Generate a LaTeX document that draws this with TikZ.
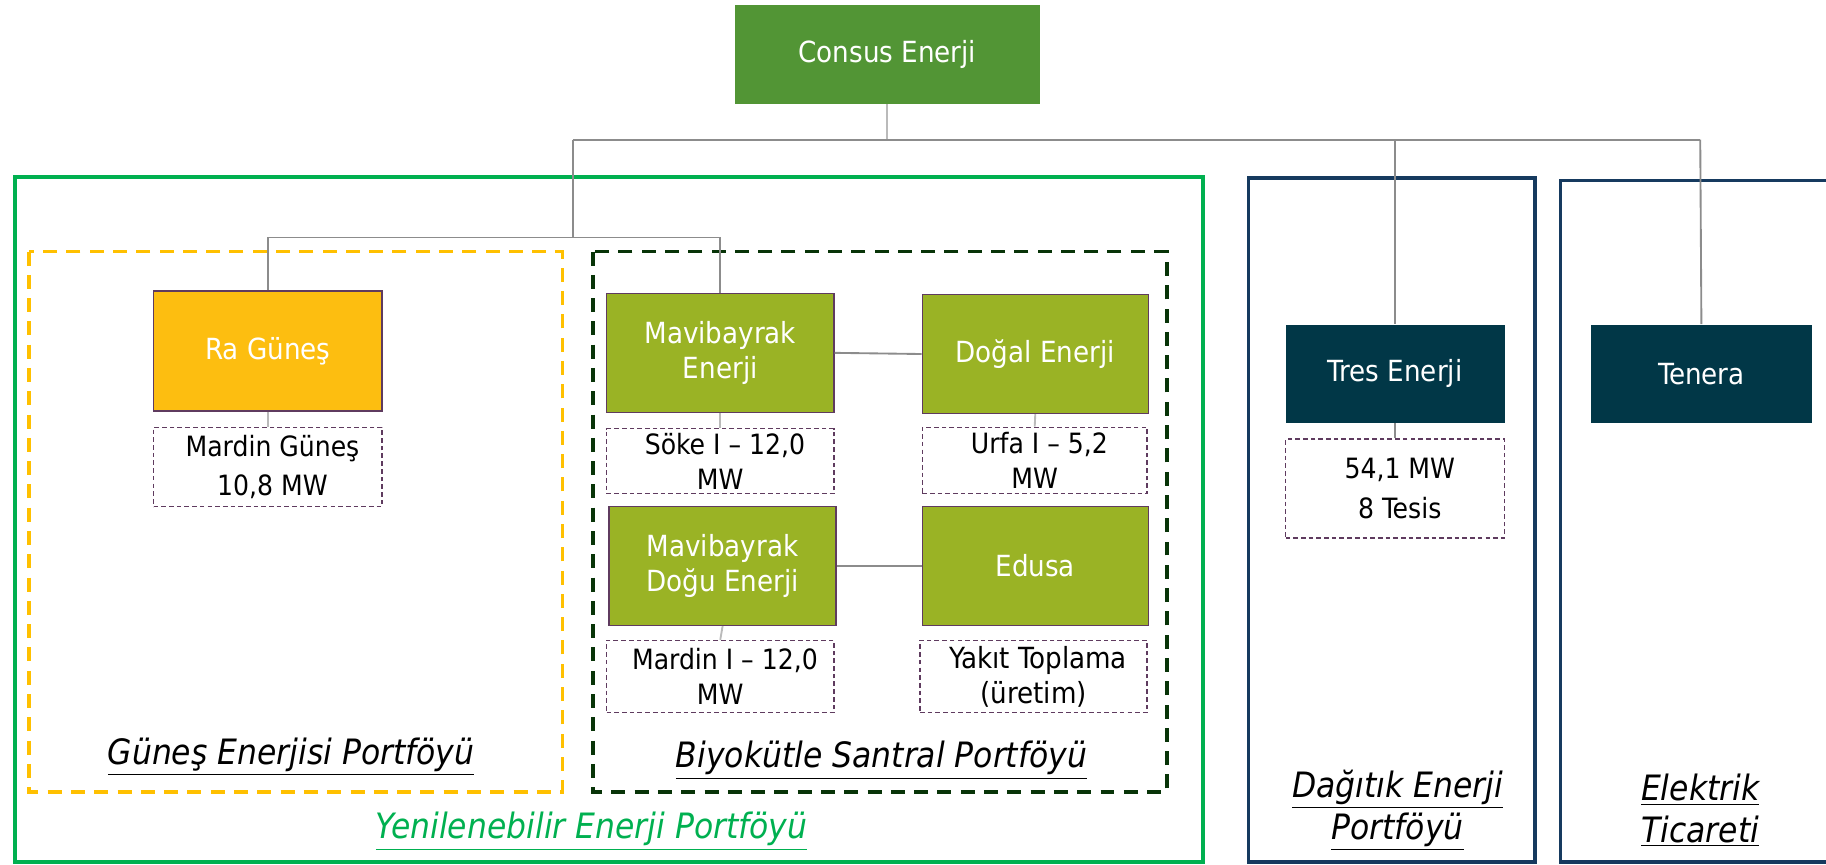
\documentclass[tikz,border=0pt]{standalone}
\usepackage{fontspec}
\setmainfont{DejaVu Sans Condensed}
\definecolor{consusgreen}{RGB}{82,149,53}
\definecolor{gold}{RGB}{253,190,16}
\definecolor{olive}{RGB}{154,179,37}
\definecolor{navyfill}{RGB}{1,55,71}
\definecolor{navyline}{RGB}{22,58,95}
\definecolor{renewgreen}{RGB}{0,176,80}
\definecolor{sunyellow}{RGB}{255,192,0}
\definecolor{bioframe}{RGB}{8,52,8}
\definecolor{purpleline}{RGB}{95,59,95}
\definecolor{conngray}{RGB}{140,140,140}
\tikzset{
  company/.style={draw=purpleline, line width=0.6pt, text=white, align=center,
    font=\fontsize{12.5}{15}\selectfont, inner sep=2pt},
  info/.style={draw=purpleline, line width=0.6pt, dash pattern=on 2pt off 1.3pt,
    fill=white, text=black, align=center, font=\fontsize{12}{15}\selectfont, inner sep=1pt},
  conn/.style={draw=conngray, line width=0.8pt},
  lightconn/.style={draw=conngray!60, line width=0.8pt},
  portlabel/.style={font=\itshape\fontsize{15}{18}\selectfont, align=center},
}
\begin{document}
\begin{tikzpicture}[x=0.5pt,y=-0.5pt]
\useasboundingbox (0,0) rectangle (1568,742);
\clip (0,0) rectangle (1568,742);
% frames
\draw[renewgreen, line width=1.5pt] (13,152) rectangle (1033,740);
\draw[navyline, line width=1.5pt] (1072,153) rectangle (1318,740);
\draw[navyline, line width=1.5pt] (1340,155) rectangle (1580,740);
\draw[sunyellow, line width=1.5pt, dash pattern=on 6pt off 4pt] (25,216) rectangle (483,680);
\draw[bioframe, line width=1.5pt, dash pattern=on 6pt off 4pt] (509,216) rectangle (1002,680);
% bus coordinates
\coordinate (b1L) at (492,120);
\coordinate (b1R) at (1460,120);
\coordinate (b2M) at (492,204);
% nodes
\node[company, fill=consusgreen, draw=none, minimum width=131pt, minimum height=42.5pt] (consus) at (762,46.5) {Consus Enerji};
\node[company, fill=gold, minimum width=98pt, minimum height=51.5pt] (ra) at (230,301.5) {Ra Güneş};
\node[info, minimum width=98pt, minimum height=34pt] (mardinG) at (230,401) {\hspace*{4pt}Mardin Güneş\\[2pt]\hspace*{4pt}10,8 MW};
\node[company, fill=olive, minimum width=97.5pt, minimum height=51pt] (mavi) at (618.5,303) {Mavibayrak\\Enerji};
\node[company, fill=olive, minimum width=97pt, minimum height=51pt] (dogal) at (889,304) {Doğal Enerji};
\node[info, minimum width=97.5pt, minimum height=28pt] (soke) at (618.5,396) {\hspace*{4pt}Söke I – 12,0\\MW};
\node[info, minimum width=96.5pt, minimum height=28.5pt] (urfa) at (888.5,395.5) {\hspace*{4pt}Urfa I – 5,2\\MW};
\node[company, fill=olive, minimum width=97.5pt, minimum height=51pt] (mavid) at (620.5,486) {Mavibayrak\\Doğu Enerji};
\node[company, fill=olive, minimum width=97pt, minimum height=51pt] (edusa) at (889,486) {Edusa};
\node[info, minimum width=97.5pt, minimum height=31pt] (mardinI) at (618.5,581) {\hspace*{4pt}Mardin I – 12,0\\MW};
\node[info, minimum width=97.5pt, minimum height=31pt, font=\fontsize{12.5}{15}\selectfont] (yakit) at (887.5,581) {\hspace*{4pt}Yakıt Toplama\\(üretim)};
\node[company, fill=navyfill, draw=none, minimum width=94pt, minimum height=42pt] (tres) at (1198,321) {Tres Enerji};
\node[info, minimum width=94pt, minimum height=42.5pt] (tresinfo) at (1198,419.5) {\hspace*{4pt}54,1 MW\\[2pt]\hspace*{4pt}8 Tesis};
\node[company, fill=navyfill, draw=none, minimum width=95pt, minimum height=42pt] (tenera) at (1461,321) {Tenera};
% labels
\node[portlabel] (lsun) at (250,650) {\underline{Güneş Enerjisi Portföyü}};
\node[portlabel] (lbio) at (757,653) {\underline{Biyokütle Santral Portföyü}};
\node[portlabel, text=renewgreen] (lren) at (508,714) {\underline{Yenilenebilir Enerji Portföyü}};
\node[portlabel] (ldist) at (1200,696) {\underline{Dağıtık Enerji}\\\underline{Portföyü}};
\node[portlabel] (lelec) at (1460,696) {\underline{Elektrik}\\\underline{Ticareti}};
% connectors
\draw[lightconn] (consus.south) -- (consus.south |- b1L);
\draw[conn] (b1L) -- (b1R);
\draw[conn] (b1L) -- (b2M);
\draw[conn] (b1L) -| (tres.north);
\draw[conn] (b1R) -- (tenera.north);
\draw[conn] (ra.north) |- (b2M) -| (mavi.north);
\draw[lightconn] (ra.south) -- (mardinG.north);
\draw[lightconn] (mavi.south) -- (soke.north);
\draw[lightconn] (dogal.south) -- (urfa.north);
\draw[lightconn] (mavid.south) -- (mardinI.north);
\draw[conn] (tres.south) -- (tresinfo.north);
\draw[conn] (mavi.east) -- (dogal.west);
\draw[conn] (mavid.east) -- (edusa.west);
\end{tikzpicture}
\end{document}
